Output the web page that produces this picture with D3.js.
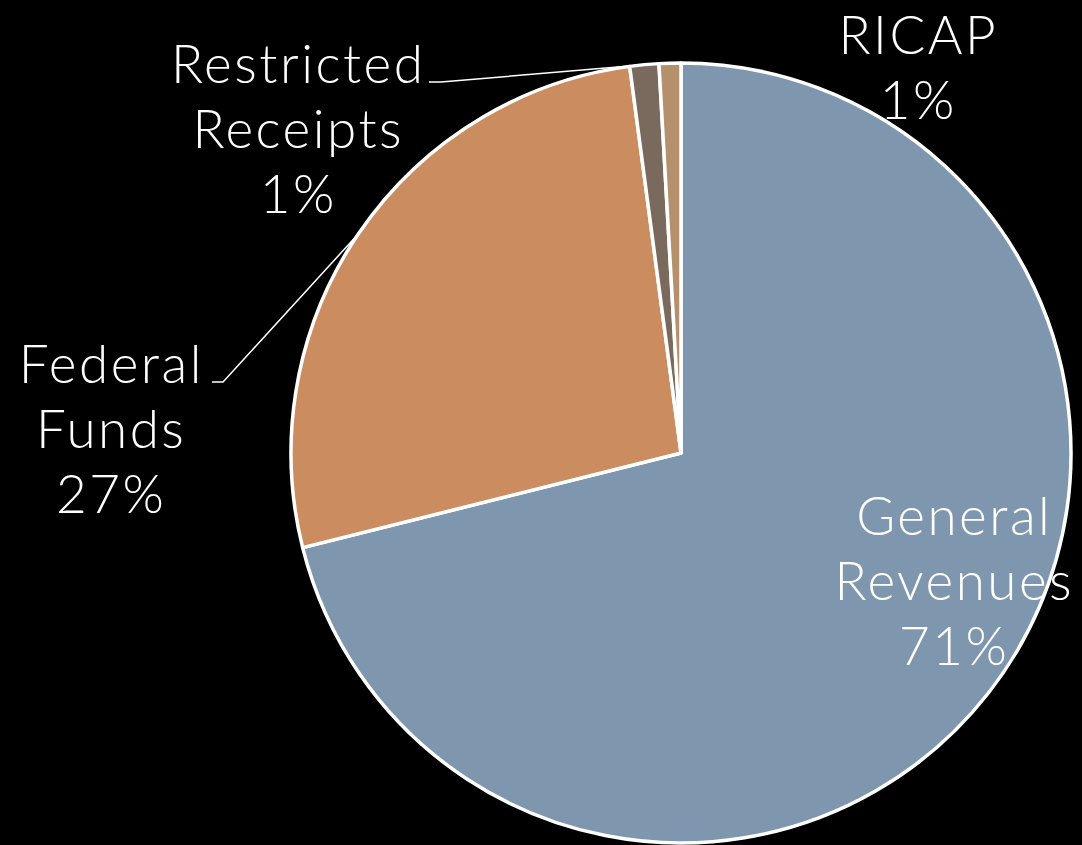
<!DOCTYPE html>
<html>
<head>
<meta charset="utf-8">
<script src="https://cdn.jsdelivr.net/npm/d3@7"></script>
<style>
  html, body { margin: 0; padding: 0; background: #000; }
  svg { display: block; }
  text { font-family: "Century Gothic", Lato, "Noto Sans", sans-serif; fill: #fff; font-weight: 300; }
</style>
</head>
<body>
<svg id="chart" width="1082" height="845"></svg>
<script>
// Funding sources, share of total (%)
const categories = ["General Revenues", "Federal Funds", "Restricted Receipts", "RICAP"];
const shares = [71.1, 26.8, 1.2, 0.9];
const sliceColors = ["#7f97ae", "#cb8c5f", "#7a6a5e", "#b4906c"];
const labelLines = [["General", "Revenues"], ["Federal", "Funds"], ["Restricted", "Receipts"], ["RICAP"]];

// Label placement: centre x and first baseline y; leader lines where the label sits outside
const labelLayout = [
  { x: 953, y: 535, leader: null },
  { x: 110, y: 383, leader: { x0: 212, x1: 223 } },
  { x: 297, y: 83,  leader: { x0: 429, x1: 441 } },
  { x: 917, y: 54,  leader: null }
];

const width = 1082, height = 845;
const cx = 681, cy = 453, radius = 390;
const fontSize = 53, lineHeight = 65, tracking = 2.5;

const svg = d3.select("#chart");
svg.append("rect").attr("width", width).attr("height", height).attr("fill", "#000");

const data = categories.map((c, i) => ({ name: c, value: shares[i], i }));

const pie = d3.pie().value(d => d.value).sort(null);
const arcs = pie(data);
const arc = d3.arc().innerRadius(0).outerRadius(radius);

const g = svg.append("g").attr("transform", `translate(${cx},${cy})`);

g.selectAll("path.slice")
  .data(arcs)
  .join("path")
  .attr("class", "slice")
  .attr("d", arc)
  .attr("fill", d => sliceColors[d.data.i])
  .attr("stroke", "#fff")
  .attr("stroke-width", 3.5)
  .attr("stroke-linejoin", "round");

// Leader lines from outside labels to the slice's outer edge
arcs.forEach(a => {
  const lay = labelLayout[a.data.i];
  if (!lay.leader) return;
  const mid = (a.startAngle + a.endAngle) / 2;
  const ex = cx + radius * Math.sin(mid);
  const ey = cy - radius * Math.cos(mid);
  const ly = lay.y - 1;
  svg.append("polyline")
    .attr("points", `${lay.leader.x0},${ly} ${lay.leader.x1},${ly} ${ex},${ey}`)
    .attr("fill", "none")
    .attr("stroke", "#fff")
    .attr("stroke-width", 1.5);
});

// Labels: category name lines plus rounded percentage
arcs.forEach(a => {
  const lay = labelLayout[a.data.i];
  const lines = labelLines[a.data.i].concat([d3.format(".0f")(a.data.value) + "%"]);
  const t = svg.append("text")
    .attr("text-anchor", "middle")
    .attr("font-size", fontSize)
    .attr("letter-spacing", tracking);
  lines.forEach((ln, k) => {
    t.append("tspan")
      .attr("x", lay.x + tracking / 2)
      .attr("y", lay.y + k * lineHeight)
      .text(ln);
  });
});
</script>
</body>
</html>
